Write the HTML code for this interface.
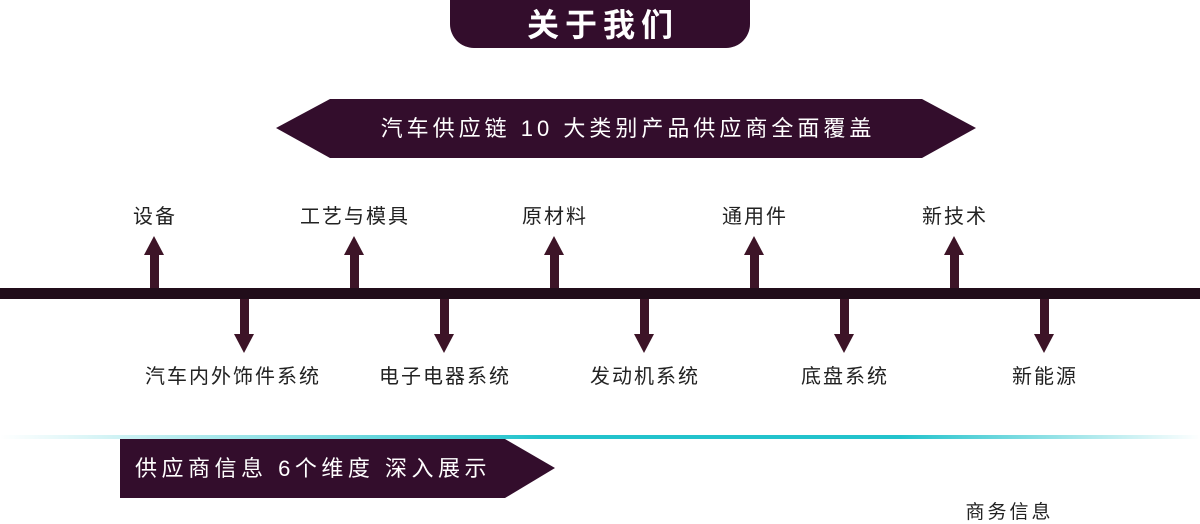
<!DOCTYPE html>
<html><head><meta charset="utf-8"><style>
body{margin:0;width:1200px;height:524px;background:#fff;position:relative;overflow:hidden;font-family:"Liberation Sans","Noto Sans CJK SC",sans-serif;}
.a{position:absolute;}
.t{position:absolute;font-size:20px;color:#222;white-space:nowrap;transform:translateX(-50%);line-height:1;letter-spacing:2px;padding-left:2px;}
</style></head><body>
<div class="a" style="left:450px;top:0;width:300px;height:48px;background:#330d2c;border-radius:0 0 24px 24px;color:#fff;font-size:32px;font-weight:bold;text-align:center;line-height:50px;letter-spacing:6px;text-indent:6px;">关于我们</div>
<svg class="a" style="left:0;top:0" width="1200" height="524">
<defs><linearGradient id="g" x1="0" x2="1"><stop offset="0" stop-color="#22c3cc" stop-opacity="0"/><stop offset="0.45" stop-color="#22c3cc"/><stop offset="0.75" stop-color="#22c3cc"/><stop offset="1" stop-color="#22c3cc" stop-opacity="0"/></linearGradient></defs>
<polygon points="276,128 330,99 922,99 976,128 922,158 330,158" fill="#330d2c"/>
<rect x="0" y="288" width="1200" height="11" fill="#210d1a"/>
<g fill="#3d1427">
<g id="u"><rect x="150" y="254" width="9" height="34"/><polygon points="144,255 154,236 164,255"/></g>
<use href="#u" x="200"/><use href="#u" x="400"/><use href="#u" x="600"/><use href="#u" x="800"/>
<g id="d"><rect x="240" y="299" width="9" height="36"/><polygon points="234,334 244,353 254,334"/></g>
<use href="#d" x="200"/><use href="#d" x="400"/><use href="#d" x="600"/><use href="#d" x="800"/>
</g>
<rect x="0" y="435" width="1200" height="4" fill="url(#g)"/>
<polygon points="120,439 505,439 555,468 505,498 120,498" fill="#330d2c"/>
</svg>
<div class="a" style="left:276px;top:99px;width:700px;height:59px;line-height:59px;text-align:center;color:#fff;font-size:22px;letter-spacing:4px;text-indent:4px;">汽车供应链 10 大类别产品供应商全面覆盖</div>
<div class="t" style="left:154px;top:207px">设备</div>
<div class="t" style="left:354px;top:207px">工艺与模具</div>
<div class="t" style="left:554px;top:207px">原材料</div>
<div class="t" style="left:754px;top:207px">通用件</div>
<div class="t" style="left:954px;top:207px">新技术</div>
<div class="t" style="left:232px;top:367px">汽车内外饰件系统</div>
<div class="t" style="left:444px;top:367px">电子电器系统</div>
<div class="t" style="left:644px;top:367px">发动机系统</div>
<div class="t" style="left:844px;top:367px">底盘系统</div>
<div class="t" style="left:1044px;top:367px">新能源</div>
<div class="a" style="left:135px;top:439px;height:59px;line-height:59px;color:#fff;font-size:22px;letter-spacing:4.5px;white-space:nowrap;">供应商信息 6个维度 深入展示</div>
<div class="t" style="left:1008px;top:503px;font-size:19px;letter-spacing:3px;padding-left:3px">商务信息</div>
</body></html>
